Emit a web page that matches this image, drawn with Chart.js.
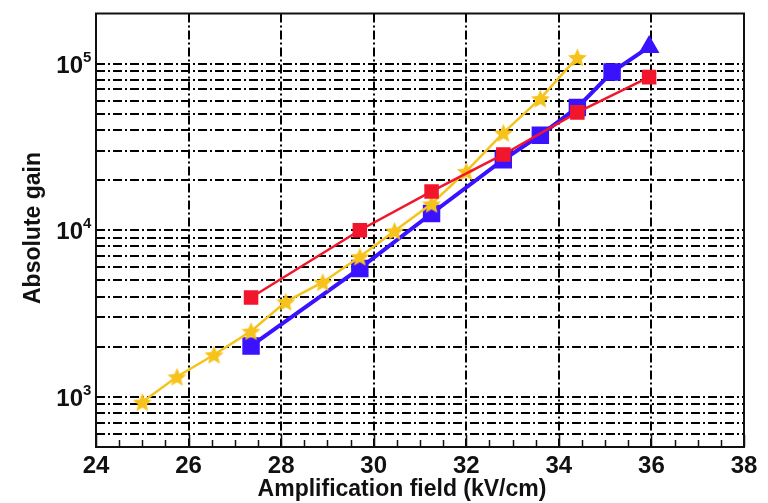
<!DOCTYPE html>
<html>
<head>
<meta charset="utf-8">
<script src="https://cdn.jsdelivr.net/npm/chart.js@4.4.1/dist/chart.umd.min.js"></script>
<style>
  html, body { margin: 0; padding: 0; background: #fff; }
</style>
</head>
<body>
<canvas id="chart" width="768" height="503"></canvas>
<script>
'use strict';

var redField = [27.35, 29.7, 31.25, 32.8, 34.4, 35.95];
var redGain = [3950, 10000, 17100, 28500, 51000, 83000];

var blueField = [27.35, 29.7, 31.25, 32.8, 33.6, 34.4, 35.15, 35.95];
var blueGain = [2020, 5900, 12600, 26500, 37200, 54600, 89000, 126000];

var yellowField = [25.0, 25.75, 26.55, 27.35, 28.1, 28.9, 29.7, 30.45, 31.25, 32.0, 32.8, 33.6, 34.4];
var yellowGain = [930, 1320, 1790, 2480, 3720, 4880, 6940, 9900, 14400, 22600, 38400, 61700, 109000];

var xTicks = [24, 26, 28, 30, 32, 34, 36, 38];
var yGridValues = [600, 700, 800, 900,
  1000, 2000, 3000, 4000, 5000, 6000, 7000, 8000, 9000,
  10000, 20000, 30000, 40000, 50000, 60000, 70000, 80000, 90000, 100000];
var yDecades = [1000, 10000, 100000];
var yExponents = ['3', '4', '5'];
var xTitle = 'Amplification field (kV/cm)';
var yTitle = 'Absolute gain';

var FONT = '"Liberation Sans", Arial, Helvetica, sans-serif';
var DASH_DOT = [9, 3, 2, 3];

function toPoints(xs, ys) {
  var pts = [];
  for (var i = 0; i < xs.length; i++) {
    pts.push({ x: xs[i], y: ys[i] });
  }
  return pts;
}

// filled star marker, chart.js only has a stroked one
function makeStar(size, color) {
  var c = document.createElement('canvas');
  c.width = size;
  c.height = size;
  var g = c.getContext('2d');
  var R = size / 2 - 0.5;
  var r = R * 0.45;
  g.beginPath();
  for (var i = 0; i < 10; i++) {
    var a = -Math.PI / 2 + i * Math.PI / 5;
    var rad = i % 2 === 0 ? R : r;
    g.lineTo(size / 2 + rad * Math.cos(a), size / 2 + 1 + rad * Math.sin(a));
  }
  g.closePath();
  g.fillStyle = color;
  g.fill();
  return c;
}

// last blue marker is a triangle, the rest squares
var bluePointStyles = blueField.map(function (v, i) {
  return i === blueField.length - 1 ? 'triangle' : 'rect';
});
var bluePointRadius = blueField.map(function (v, i) {
  return i === blueField.length - 1 ? 8 : 9.5;
});

var gridColor = function (c) {
  if (c.tick && (c.tick.value === 24 || c.tick.value === 38)) return 'rgba(0,0,0,0)';
  return '#000';
};

var frame = {
  id: 'frame',
  afterDraw: function (chart) {
    var ctx = chart.ctx;
    var a = chart.chartArea;
    var xs = chart.scales.x;
    var ys = chart.scales.y;
    ctx.save();

    // inner ticks along the bottom
    ctx.strokeStyle = '#111';
    ctx.lineWidth = 1.5;
    ctx.beginPath();
    for (var v = 24; v <= 38; v += 0.5) {
      var px = Math.round(xs.getPixelForValue(v)) + 0.5;
      var len = (v % 2 === 0) ? 12 : 7;
      ctx.moveTo(px, a.bottom);
      ctx.lineTo(px, a.bottom - len);
    }
    ctx.stroke();

    // frame
    ctx.lineWidth = 2;
    ctx.strokeStyle = '#111';
    ctx.strokeRect(a.left, a.top, a.right - a.left, a.bottom - a.top);

    // x tick labels
    ctx.fillStyle = '#111';
    ctx.font = 'bold 24px ' + FONT;
    ctx.textAlign = 'center';
    ctx.textBaseline = 'alphabetic';
    xTicks.forEach(function (t) {
      ctx.fillText(String(t), xs.getPixelForValue(t), a.bottom + 26);
    });

    // y tick labels 10^n
    yDecades.forEach(function (d, i) {
      var py = ys.getPixelForValue(d);
      ctx.font = 'bold 24px ' + FONT;
      ctx.textAlign = 'right';
      ctx.fillText('10', 83, py + 9);
      ctx.font = 'bold 15px ' + FONT;
      ctx.textAlign = 'left';
      ctx.fillText(yExponents[i], 83, py - 2);
    });

    // axis titles
    ctx.font = 'bold 23px ' + FONT;
    ctx.textAlign = 'center';
    ctx.fillText(xTitle, 402, 496);

    ctx.translate(40, 228);
    ctx.rotate(-Math.PI / 2);
    ctx.fillText(yTitle, 0, 0);
    ctx.restore();
  }
};

var ctx = document.getElementById('chart').getContext('2d');

var chart = new Chart(ctx, {
  type: 'line',
  data: {
    datasets: [{
      label: 'red',
      data: toPoints(redField, redGain),
      borderColor: '#f2162c',
      backgroundColor: '#f2162c',
      borderWidth: 2.5,
      pointStyle: 'rect',
      pointRadius: 8.5,
      order: 1
    }, {
      label: 'yellow',
      data: toPoints(yellowField, yellowGain),
      borderColor: '#f6c31c',
      backgroundColor: '#f6c31c',
      borderWidth: 2.5,
      pointStyle: makeStar(21, '#f6c31c'),
      pointRadius: 10,
      order: 2
    }, {
      label: 'blue',
      data: toPoints(blueField, blueGain),
      borderColor: '#3a12ff',
      backgroundColor: '#3a12ff',
      borderWidth: 4,
      pointStyle: bluePointStyles,
      pointRadius: bluePointRadius,
      order: 3
    }]
  },
  options: {
    responsive: false,
    animation: false,
    devicePixelRatio: 1,
    layout: { padding: { left: 96, right: 24, top: 7, bottom: 56 } },
    plugins: {
      legend: { display: false },
      tooltip: { enabled: false }
    },
    elements: { line: { tension: 0 } },
    scales: {
      x: {
        type: 'linear',
        min: 24,
        max: 38,
        afterBuildTicks: function (scale) {
          scale.ticks = xTicks.map(function (v) { return { value: v }; });
        },
        ticks: { display: false },
        grid: { color: gridColor, lineWidth: 2, drawTicks: false },
        border: { display: false, dash: DASH_DOT }
      },
      y: {
        type: 'logarithmic',
        min: 500,
        max: 200000,
        afterBuildTicks: function (scale) {
          scale.ticks = yGridValues.map(function (v) { return { value: v }; });
        },
        ticks: { display: false },
        grid: { color: '#000', lineWidth: 2, drawTicks: false },
        border: { display: false, dash: DASH_DOT }
      }
    }
  },
  plugins: [frame]
});
</script>
</body>
</html>
